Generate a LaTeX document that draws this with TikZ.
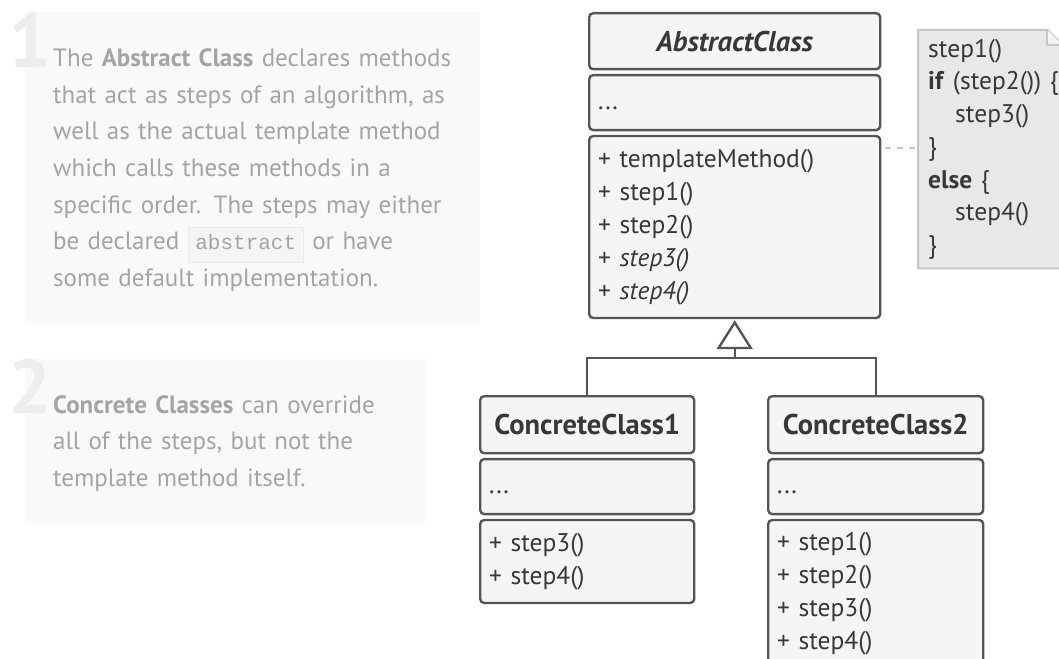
\documentclass[tikz,border=0pt]{standalone}
\usepackage{fontspec}
\setmainfont{PT Sans}
\setmonofont{Liberation Mono}
\usepackage{xcolor}
\usetikzlibrary{positioning, arrows.meta}
\definecolor{umlline}{HTML}{555555}
\definecolor{umlfill}{HTML}{F5F5F5}
\definecolor{umltext}{HTML}{383838}
\definecolor{notefill}{HTML}{E8E8E8}
\definecolor{noteline}{HTML}{C6C6C6}
\definecolor{panelfill}{HTML}{F9F9F9}
\definecolor{paneltext}{HTML}{A4A4A4}
\definecolor{bignumber}{HTML}{EDEDED}
\definecolor{codefill}{HTML}{F5F5F5}
\definecolor{codeline}{HTML}{EAEAEA}

\newcommand{\codeword}[1]{{\setlength{\fboxsep}{7pt}\setlength{\fboxrule}{0.8pt}%
  \fcolorbox{codeline}{codefill}{\rule[-5pt]{0pt}{18pt}\ttfamily\fontsize{21}{21}\selectfont #1}}}

\tikzset{
  panel/.style={fill=panelfill, anchor=north west, inner sep=0pt},
  bignum/.style={text=bignumber, anchor=base west, inner sep=0pt,
    font=\fontsize{76}{76}\selectfont\bfseries},
  paneltxt/.style={text=paneltext, anchor=base west, inner sep=0pt, align=left,
    font=\fontsize{25}{36.6}\selectfont},
  compartment/.style={draw=umlline, fill=umlfill, line width=2.4pt, rounded corners=4pt,
    inner xsep=9pt, inner ysep=0pt, text=umltext, align=left,
    font=\fontsize{25.5}{33}\selectfont},
  classhead/.style={compartment, align=center, font=\fontsize{28.5}{33}\selectfont\bfseries},
  inherit/.style={draw=umlline, line width=2.4pt},
  notebox/.style={draw=noteline, fill=notefill, line width=2pt, line join=round},
  notelink/.style={draw=noteline, line width=2pt, dash pattern=on 6pt off 6pt}
}

\begin{document}
\begin{tikzpicture}[x=1pt, y=-1pt]
  \fill[white] (0,0) rectangle (1059,658);
  \useasboundingbox (0,0) rectangle (1059,658);
  \clip (0,0) rectangle (1059,658);

  \node[panel, minimum width=455pt, minimum height=311pt] (panel1) at (25,12) {};
  \node[bignum] (num1) at (8,68) {1};
  \node[paneltxt, text width=430pt] (text1) at (53,66.7) {%
    The \textbf{Abstract Class} declares methods\\
    that act as steps of an algorithm, as\\
    well as the actual template method\\
    which calls these methods in a\\
    specific order. The steps may either\\
    be declared \codeword{abstract} or have\\
    some default implementation.};

  \node[panel, minimum width=401pt, minimum height=164pt] (panel2) at (25,359) {};
  \node[bignum] (num2) at (8,413) {2};
  \node[paneltxt, text width=370pt] (text2) at (53,413) {%
    \textbf{Concrete Classes} can override\\
    all of the steps, but not the\\
    template method itself.};

  % abstract class
  \node[classhead, anchor=north west, minimum width=291pt, minimum height=56pt, text width=273pt]
    (abs-head) at (588,12) {\textit{AbstractClass}};
  \node[compartment, minimum width=291pt, minimum height=55pt, text width=273pt,
    below=3.5pt of abs-head] (abs-attr) {\strut...};
  \node[compartment, minimum width=291pt, minimum height=182pt, text width=273pt,
    below=3.5pt of abs-attr] (abs-meth) {%
    + templateMethod()\\ + step1()\\ + step2()\\ + \textit{step3()}\\ + \textit{step4()}};

  % concrete classes
  \node[classhead, anchor=north west, minimum width=214pt, minimum height=57pt, text width=196pt]
    (c1-head) at (479,395) {ConcreteClass1};
  \node[compartment, minimum width=214pt, minimum height=55pt, text width=196pt,
    below=3.5pt of c1-head] (c1-attr) {\strut...};
  \node[compartment, minimum width=214pt, minimum height=83pt, text width=196pt,
    below=3.5pt of c1-attr] (c1-meth) {+ step3()\\ + step4()};

  \node[classhead, anchor=north west, minimum width=215pt, minimum height=57pt, text width=197pt]
    (c2-head) at (767,395) {ConcreteClass2};
  \node[compartment, minimum width=215pt, minimum height=55pt, text width=197pt,
    below=3.5pt of c2-head] (c2-attr) {\strut...};
  \node[compartment, minimum width=215pt, minimum height=147pt, text width=197pt,
    below=3.5pt of c2-attr] (c2-meth) {+ step1()\\ + step2()\\ + step3()\\ + step4()};

  % inheritance
  \coordinate (join) at (abs-meth.south |- 0,358);
  \draw[inherit] (c1-head.north) |- (join) -| (c2-head.north);
  \draw[inherit, -{Triangle[open, length=29pt, width=36pt, line width=2.4pt]}]
    (join) -- ([yshift=-1pt]abs-meth.south);

  % note
  \node[anchor=north west, minimum width=144pt, minimum height=238pt, inner sep=0pt]
    (note) at (918,30) {};
  \draw[notebox] (note.north west) -- ([xshift=-15pt]note.north east)
    -- ([yshift=-15pt]note.north east) -- (note.south east) -- (note.south west) -- cycle;
  \draw[notebox, fill=notefill!50!white] ([xshift=-15pt]note.north east)
    -- ++(0,15) -- ++(15,0);
  \node[anchor=west, inner xsep=10pt, inner ysep=0pt, text width=160pt, align=left,
    text=umltext, font=\fontsize{25.5}{32.7}\selectfont] (notetext) at (note.west) {%
    step1()\\
    \textbf{if} (step2()) \{\\
    \hspace*{27pt}step3()\\
    \}\\
    \textbf{else} \{\\
    \hspace*{27pt}step4()\\
    \}};
  \draw[notelink, shorten <=4pt] (abs-meth.east |- 0,148) -- (note.west |- 0,148);
\end{tikzpicture}
\end{document}
